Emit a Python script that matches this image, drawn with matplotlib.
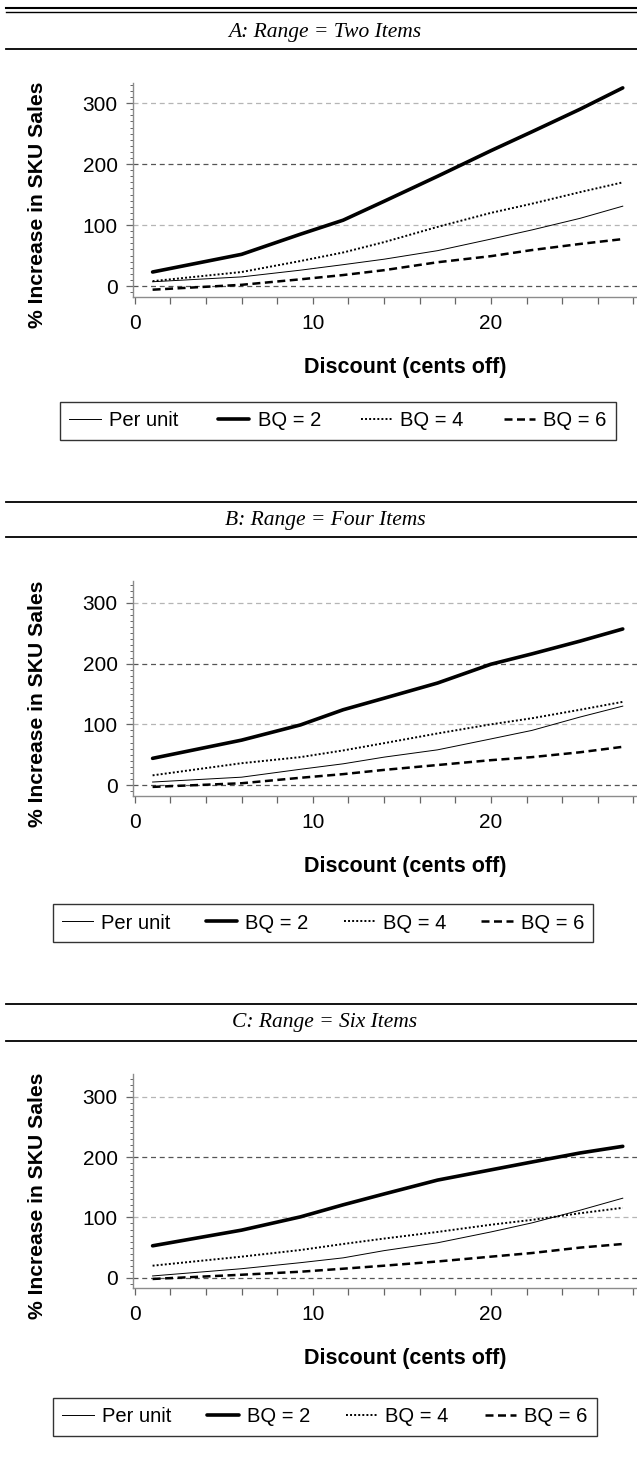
import matplotlib
matplotlib.use('Agg')
import matplotlib.pyplot as plt
from matplotlib.lines import Line2D
from matplotlib import ticker

# ---- data ----
discount = [1, 6, 9.3, 11.7, 14, 17, 20, 22.3, 25, 27.4]

per_unit_a = [7, 15, 26, 35, 44, 58, 77, 92, 111, 131]
bq2_a = [23, 52, 85, 108, 139, 180, 222, 253, 290, 325]
bq4_a = [8, 23, 41, 55, 72, 97, 120, 135, 154, 170]
bq6_a = [-6, 2, 11, 18, 26, 39, 49, 59, 69, 77]

per_unit_b = [5, 13, 26, 35, 46, 58, 76, 90, 112, 130]
bq2_b = [44, 74, 99, 124, 143, 168, 199, 216, 237, 257]
bq4_b = [16, 36, 46, 57, 69, 85, 100, 110, 124, 137]
bq6_b = [-3, 3, 12, 18, 25, 33, 41, 46, 54, 63]

per_unit_c = [3, 15, 25, 33, 45, 58, 76, 91, 112, 132]
bq2_c = [53, 79, 101, 121, 139, 162, 179, 192, 207, 218]
bq4_c = [20, 35, 46, 56, 65, 76, 88, 96, 107, 116]
bq6_c = [-2, 5, 10, 15, 20, 27, 35, 41, 50, 56]

panel_titles = ['A: Range = Two Items', 'B: Range = Four Items', 'C: Range = Six Items']
series_labels = ['Per unit', 'BQ = 2', 'BQ = 4', 'BQ = 6']
y_ticks = [0, 100, 200, 300]
x_ticks = list(range(0, 29, 2))
grid_levels = [0, 100, 200, 300]

W, H = 637, 1466
fig = plt.figure(figsize=(W / 100, H / 100), dpi=100)
plt.rcParams['font.family'] = ['Liberation Sans', 'DejaVu Sans']


def fx(x):
    return x / W


def fy(y):
    return 1 - y / H


def rule(y, lw=1.3):
    fig.add_artist(Line2D([fx(6), fx(W)], [fy(y), fy(y)], color='black', lw=lw,
                          transform=fig.transFigure))


# line styles for the four series
styles = [dict(color='black', lw=0.7, ls='-'),
          dict(color='black', lw=2.6, ls='-', solid_capstyle='round'),
          dict(color='black', lw=1.4, ls=(0, (1, 1.1))),
          dict(color='black', lw=1.8, ls=(0, (3.2, 1.8)))]

# layout per panel (pixel rows in the picture)
panels = [
    dict(rules=[49], title_y=32, top=83, bottom=297, ylim=(-18, 333), leg_y=421, leg_x=338,
         series=[per_unit_a, bq2_a, bq4_a, bq6_a], colsp=2.0),
    dict(rules=[502, 537], title_y=520, top=581, bottom=796, ylim=(-18, 336), leg_y=923, leg_x=323,
         series=[per_unit_b, bq2_b, bq4_b, bq6_b], colsp=1.75),
    dict(rules=[1004, 1041], title_y=1023, top=1074, bottom=1288, ylim=(-17, 338), leg_y=1417, leg_x=325,
         series=[per_unit_c, bq2_c, bq4_c, bq6_c], colsp=1.8),
]

# double rule at the very top of the table
rule(8, lw=1.5)
rule(12, lw=1.0)

grid_colors = {0: '#555555', 100: '#b5b5b5', 200: '#555555', 300: '#b5b5b5'}

for i, p in enumerate(panels):
    for r in p['rules']:
        rule(r)
    fig.text(fx(325), fy(p['title_y']), panel_titles[i], ha='center', va='center',
             fontsize=15.5, style='italic', family=['Liberation Serif', 'DejaVu Serif'])

    left, right = 133, 637
    ax = fig.add_axes([fx(left), fy(p['bottom']), (right - left) / W,
                       (p['bottom'] - p['top']) / H])

    for g in grid_levels:
        ax.axhline(g, color=grid_colors[g], lw=0.9, ls=(0, (4, 3)), zorder=1)

    for vals, st in zip(p['series'], styles):
        ax.plot(discount, vals, zorder=3, **st)

    ax.set_xlim(-0.1, 28.2)
    ax.set_ylim(*p['ylim'])

    for s in ['top', 'right']:
        ax.spines[s].set_visible(False)
    for s in ['left', 'bottom']:
        ax.spines[s].set_color('#8c8c8c')
        ax.spines[s].set_linewidth(1.0)

    ax.set_xticks(x_ticks)
    ax.set_xticklabels([str(t) if t % 10 == 0 else '' for t in x_ticks])
    ax.set_yticks(y_ticks)
    ax.yaxis.set_minor_locator(ticker.MultipleLocator(10))
    ax.tick_params(axis='x', direction='out', length=5, width=0.9, color='#666666',
                   labelsize=15, pad=7)
    ax.tick_params(axis='y', which='major', direction='out', length=5, width=0.9,
                   color='#666666', labelsize=15, pad=6)
    ax.tick_params(axis='y', which='minor', direction='out', length=2.5, width=0.7,
                   color='#666666')

    ax.set_xlabel('Discount (cents off)', fontsize=15.5, fontweight='bold')
    ax.xaxis.set_label_coords(0.54, -0.28)
    ax.set_ylabel('% Increase in SKU Sales', fontsize=15.2, fontweight='bold')
    ax.yaxis.set_label_coords(-0.17, 0.43)

    handles = [Line2D([], [], **st) for st in styles]
    leg = fig.legend(handles, series_labels, loc='center',
                     bbox_to_anchor=(fx(p['leg_x']), fy(p['leg_y'])), ncol=4,
                     fontsize=14.5, frameon=True, fancybox=False, handlelength=1.55,
                     handletextpad=0.4, columnspacing=p['colsp'], borderpad=0.45,
                     borderaxespad=0)
    leg.get_frame().set_edgecolor('black')
    leg.get_frame().set_linewidth(1.0)

fig.savefig('out.png', dpi=100)
